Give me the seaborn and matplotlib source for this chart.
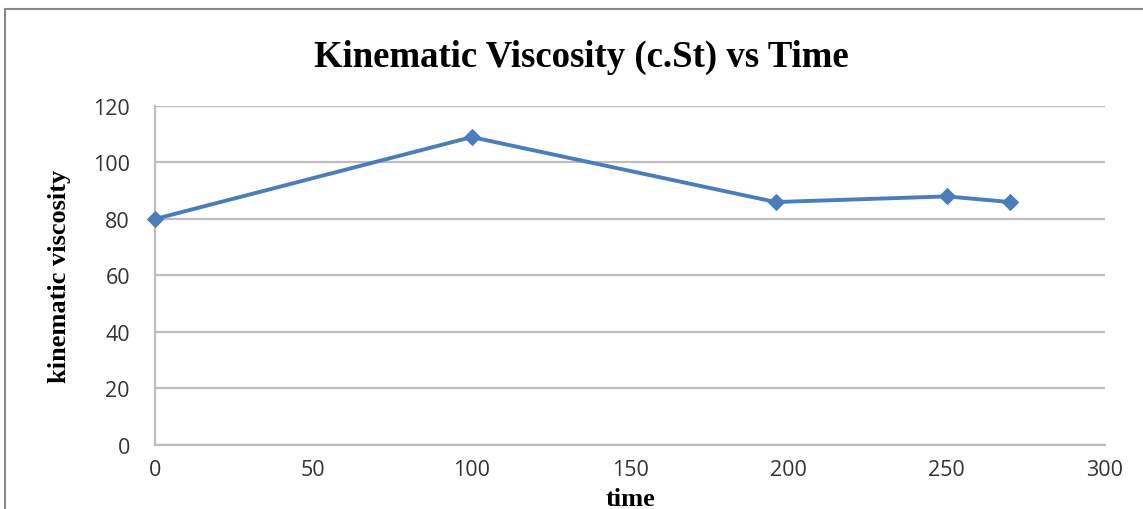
import matplotlib
matplotlib.use("Agg")
import matplotlib.pyplot as plt
import seaborn as sns
import pandas as pd
from matplotlib.patches import Rectangle

# Measurements
time = [0, 100, 196, 250, 270]
viscosity = [80, 109, 86, 88, 86]
x_ticks = [0, 50, 100, 150, 200, 250, 300]
y_ticks = [0, 20, 40, 60, 80, 100, 120]

df = pd.DataFrame({"time": time, "viscosity": viscosity})

sns.set_style("white")
plt.rcParams["font.family"] = ["Open Sans", "DejaVu Sans"]

fig = plt.figure(figsize=(11.43, 5.10), dpi=100)
ax = fig.add_axes([0.1356, 0.1255, 0.8312, 0.6647])

sns.lineplot(data=df, x="time", y="viscosity", ax=ax, color="#4A7EBB",
             linewidth=2.8, marker="D", markersize=8.5,
             markeredgecolor="#4A7EBB", markerfacecolor="#4A7EBB",
             clip_on=False, zorder=5)

ax.set_xlim(0, 300)
ax.set_ylim(0, 120)
ax.set_xticks(x_ticks)
ax.set_yticks(y_ticks)
ax.yaxis.grid(True, color="#BEBEBE", linewidth=1.6)
ax.xaxis.grid(False)
ax.set_axisbelow(True)

for side in ["top", "right"]:
    ax.spines[side].set_visible(False)
for side in ["left", "bottom"]:
    ax.spines[side].set_color("#BEBEBE")
    ax.spines[side].set_linewidth(1.6)

ax.tick_params(axis="both", length=0, labelsize=15.5, colors="#333333")
ax.tick_params(axis="y", pad=18)
ax.tick_params(axis="x", pad=10)

ax.set_xlabel("time", family="Liberation Serif", fontweight="bold",
              fontsize=19, color="black", labelpad=5)
ax.set_ylabel("kinematic viscosity", family="Liberation Serif",
              fontweight="bold", fontsize=19, color="black", labelpad=16)

fig.text(0.509, 0.888, "Kinematic Viscosity (c.St) vs Time",
         family="Liberation Serif", fontweight="bold", fontsize=26.5,
         ha="center", va="center", color="black")

# Chart frame
fig.patches.append(Rectangle((5 / 1143, -0.1), 1.2, 1.1 - 10 / 510,
                             transform=fig.transFigure, fill=False,
                             edgecolor="#888888", linewidth=1.5))

fig.savefig("out.png", dpi=100)
